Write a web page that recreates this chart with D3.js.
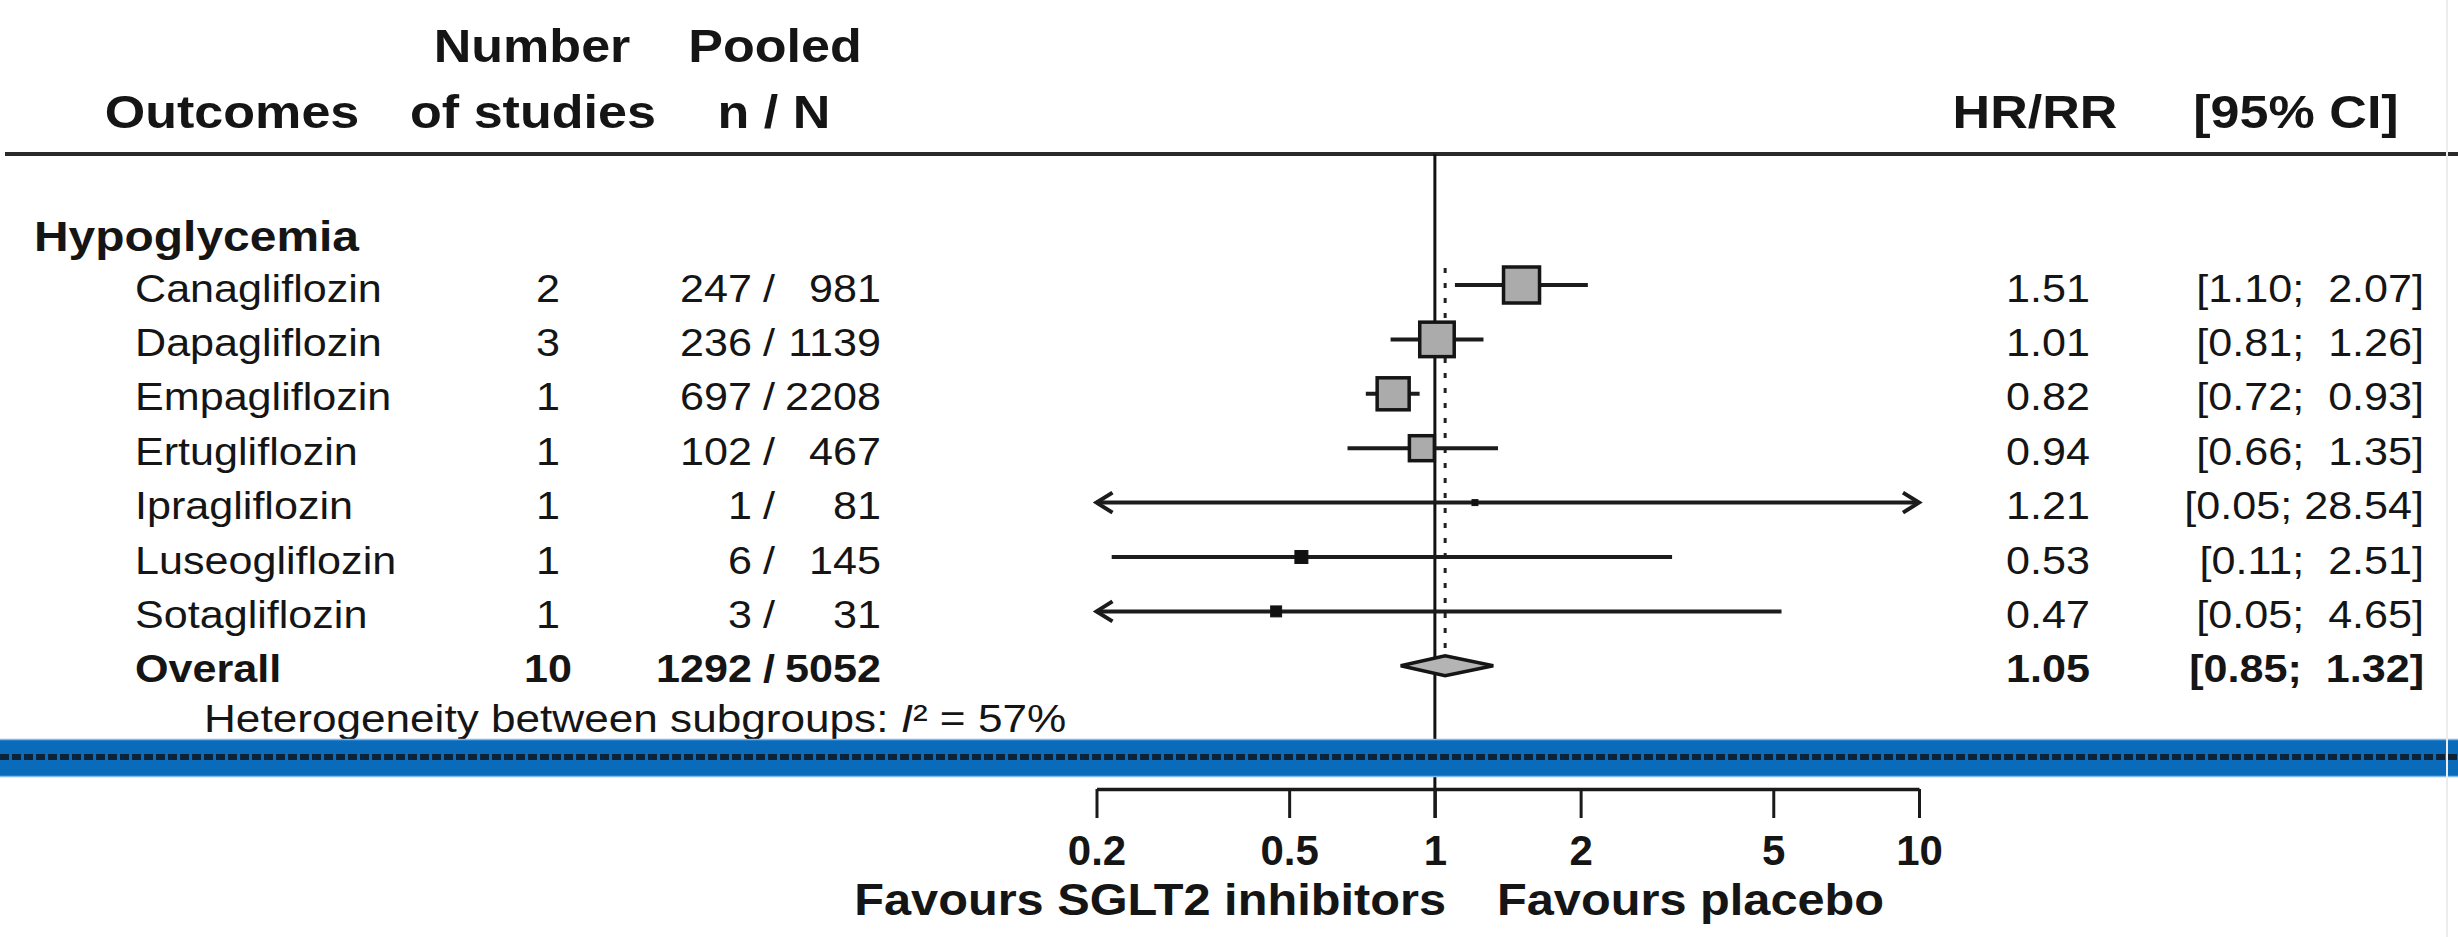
<!DOCTYPE html>
<html>
<head>
<meta charset="utf-8">
<script src="https://cdn.jsdelivr.net/npm/d3@7"></script>
<style>
  body { margin: 0; background: #fff; }
  text { font-family: "Liberation Sans", Arial, Helvetica, sans-serif; fill: #151515; white-space: pre; }
</style>
</head>
<body>
<div id="chart"></div>
<script>
// ---- data ----
const subgroup = "Hypoglycemia";
const drugs = ["Canagliflozin", "Dapagliflozin", "Empagliflozin", "Ertugliflozin",
               "Ipragliflozin", "Luseogliflozin", "Sotagliflozin"];
const nStudies = [2, 3, 1, 1, 1, 1, 1];
const events = [247, 236, 697, 102, 1, 6, 3];
const totals = [981, 1139, 2208, 467, 81, 145, 31];
const hr = [1.51, 1.01, 0.82, 0.94, 1.21, 0.53, 0.47];
const ciLow = [1.10, 0.81, 0.72, 0.66, 0.05, 0.11, 0.05];
const ciHigh = [2.07, 1.26, 0.93, 1.35, 28.54, 2.51, 4.65];
// whisker ends as they are drawn in the figure (Luseo/Sota differ from printed CI)
const lineLow = [1.10, 0.81, 0.72, 0.66, 0.05, 0.215, 0.05];
const lineHigh = [2.07, 1.26, 0.93, 1.35, 28.54, 3.09, 5.2];
const weights = [29.1, 26.7, 23.0, 14.0, 0.8, 3.8, 2.7];

const overallLabel = "Overall";
const overallStudies = 10;
const overallEvents = 1292;
const overallTotal = 5052;
const overallHr = 1.05;
const overallLow = 0.85;
const overallHigh = 1.32;
const hetText = ["Heterogeneity between subgroups: ", "I", "\u00b2 = 57%"];

const xTicks = [0.2, 0.5, 1, 2, 5, 10];
const leftLabel = "Favours SGLT2 inhibitors";
const rightLabel = "Favours placebo";

// ---- layout ----
const W = 2458, H = 937;
const sx = 1.12;           // the figure's text is a bit wider than Arial
const fsRow = 38.5, fsHead = 46.5, fsGroup = 42.8, fsAxis = 42;

const svg = d3.select("#chart").append("svg")
  .attr("width", W).attr("height", H)
  .style("display", "block");
svg.append("rect").attr("width", W).attr("height", H).attr("fill", "#fff");

const x = d3.scaleLog().domain([0.2, 10]).range([1096.5, 1919]);
const y = d3.scaleLinear().domain([0, 7]).range([285, 665.8]);

function txt(str, px, py, opt) {
  opt = opt || {};
  return svg.append("text")
    .attr("transform", `translate(${px},${py}) scale(${opt.sx || sx},1)`)
    .attr("text-anchor", opt.anchor || "start")
    .attr("font-size", opt.size || fsRow)
    .attr("font-weight", opt.bold ? "bold" : null)
    .text(str);
}

// header
txt("Number", 532, 62, {anchor: "middle", size: fsHead, bold: true});
txt("Pooled", 775, 62, {anchor: "middle", size: fsHead, bold: true});
txt("Outcomes", 232, 128, {anchor: "middle", size: fsHead, bold: true});
txt("of studies", 533, 128, {anchor: "middle", size: fsHead, bold: true});
txt("n / N", 774, 128, {anchor: "middle", size: fsHead, bold: true});
txt("HR/RR", 2035, 128, {anchor: "middle", size: fsHead, bold: true});
txt("[95% CI]", 2296, 128, {anchor: "middle", size: fsHead, bold: true});

svg.append("line").attr("x1", 5).attr("x2", W).attr("y1", 154).attr("y2", 154)
  .attr("stroke", "#2a2a2a").attr("stroke-width", 4);

// reference line at 1 and dotted line at the pooled estimate
svg.append("line").attr("x1", x(1)).attr("x2", x(1)).attr("y1", 154).attr("y2", 818)
  .attr("stroke", "#111").attr("stroke-width", 3);
svg.append("line").attr("x1", x(overallHr)).attr("x2", x(overallHr))
  .attr("y1", 268).attr("y2", 655)
  .attr("stroke", "#222").attr("stroke-width", 3).attr("stroke-dasharray", "5,10");

// subgroup title
txt(subgroup, 34, y(-1) + 20, {size: fsGroup, bold: true});

// study rows
const size = d3.scaleSqrt().domain([0, d3.max(weights)]).range([0, 36]);
const fmt2 = d3.format(".2f");
const [xmin, xmax] = x.domain();

drugs.forEach((d, i) => {
  const yy = y(i);
  txt(d, 135, yy + 16.5);
  txt(String(nStudies[i]), 548, yy + 16.5, {anchor: "middle"});
  txt(String(events[i]), 752, yy + 16.5, {anchor: "end"});
  txt("/", 769, yy + 16.5, {anchor: "middle"});
  txt(String(totals[i]), 881, yy + 16.5, {anchor: "end"});
  txt(fmt2(hr[i]), 2090, yy + 16.5, {anchor: "end"});
  const lo = fmt2(ciLow[i]), hi = fmt2(ciHigh[i]);
  txt("[" + lo + ";" + (hi.length < 5 ? "  " : " ") + hi + "]", 2424, yy + 16.5, {anchor: "end"});

  // whisker
  const a = Math.max(lineLow[i], xmin), b = Math.min(lineHigh[i], xmax);
  svg.append("line").attr("x1", x(a)).attr("x2", x(b)).attr("y1", yy).attr("y2", yy)
    .attr("stroke", "#1c1c1c").attr("stroke-width", 4);
  if (lineLow[i] < xmin) {
    svg.append("path")
      .attr("d", `M${x(xmin) + 16},${yy - 10}L${x(xmin)},${yy}L${x(xmin) + 16},${yy + 10}`)
      .attr("fill", "none").attr("stroke", "#1c1c1c").attr("stroke-width", 4);
  }
  if (lineHigh[i] > xmax) {
    svg.append("path")
      .attr("d", `M${x(xmax) - 16},${yy - 10}L${x(xmax)},${yy}L${x(xmax) - 16},${yy + 10}`)
      .attr("fill", "none").attr("stroke", "#1c1c1c").attr("stroke-width", 4);
  }
  // box (small ones come out solid black in the figure)
  const s = size(weights[i]);
  svg.append("rect")
    .attr("x", x(hr[i]) - s / 2).attr("y", yy - s / 2)
    .attr("width", s).attr("height", s)
    .attr("fill", s > 16 ? "#ababab" : "#111").attr("stroke", "#151515")
    .attr("stroke-width", s > 16 ? 3.5 : 1);
});

// overall row
const yo = y(7);
txt(overallLabel, 135, yo + 16.5, {bold: true});
txt(String(overallStudies), 548, yo + 16.5, {anchor: "middle", bold: true});
txt(String(overallEvents), 752, yo + 16.5, {anchor: "end", bold: true});
txt("/", 769, yo + 16.5, {anchor: "middle", bold: true});
txt(String(overallTotal), 881, yo + 16.5, {anchor: "end", bold: true});
txt(fmt2(overallHr), 2090, yo + 16.5, {anchor: "end", bold: true});
txt("[" + fmt2(overallLow) + ";  " + fmt2(overallHigh) + "]", 2424, yo + 16.5, {anchor: "end", bold: true});

svg.append("path")
  .attr("d", `M${x(overallLow)},${yo}L${x(overallHr)},${yo - 10}L${x(overallHigh)},${yo}L${x(overallHr)},${yo + 10}Z`)
  .attr("fill", "#b4b4b4").attr("stroke", "#151515").attr("stroke-width", 3.5);

// heterogeneity
const het = txt("", 204, y(8) + 12, {size: 39.4});
het.append("tspan").text(hetText[0]);
het.append("tspan").attr("font-style", "italic").text(hetText[1]);
het.append("tspan").text(hetText[2]);

// blue band across the figure
svg.append("rect").attr("x", 0).attr("y", 739).attr("width", W).attr("height", 38)
  .attr("fill", "#0b6bbb");
svg.append("line").attr("x1", 0).attr("x2", W).attr("y1", 739.5).attr("y2", 739.5)
  .attr("stroke", "#7fbaea").attr("stroke-width", 1.5);
svg.append("line").attr("x1", 0).attr("x2", W).attr("y1", 776.5).attr("y2", 776.5)
  .attr("stroke", "#7fbaea").attr("stroke-width", 1.5);
svg.append("line").attr("x1", 0).attr("x2", W).attr("y1", 757).attr("y2", 757)
  .attr("stroke", "#0c2237").attr("stroke-width", 6).attr("stroke-dasharray", "9,3");

// x axis
const axis = svg.append("g").attr("transform", "translate(0,789)")
  .call(d3.axisBottom(x).tickValues(xTicks).tickFormat(d3.format("")).tickSize(29).tickSizeOuter(0));
axis.select(".domain").attr("stroke", "#1a1a1a").attr("stroke-width", 3.5);
axis.selectAll(".tick line").attr("stroke", "#1a1a1a").attr("stroke-width", 3);
axis.selectAll(".tick text")
  .attr("y", 76).attr("dy", null)
  .attr("font-size", fsAxis).attr("font-weight", "bold")
  .attr("font-family", "'Liberation Sans', Arial, sans-serif")
  .attr("fill", "#151515");

txt(leftLabel, 1446, 915, {anchor: "end", size: 43.5, bold: true});
txt(rightLabel, 1497, 915, {size: 43.5, bold: true});

// faint frame edge of the original image
svg.append("line").attr("x1", 2447).attr("x2", 2447).attr("y1", 0).attr("y2", H)
  .attr("stroke", "#ececec").attr("stroke-width", 2);
</script>
</body>
</html>
